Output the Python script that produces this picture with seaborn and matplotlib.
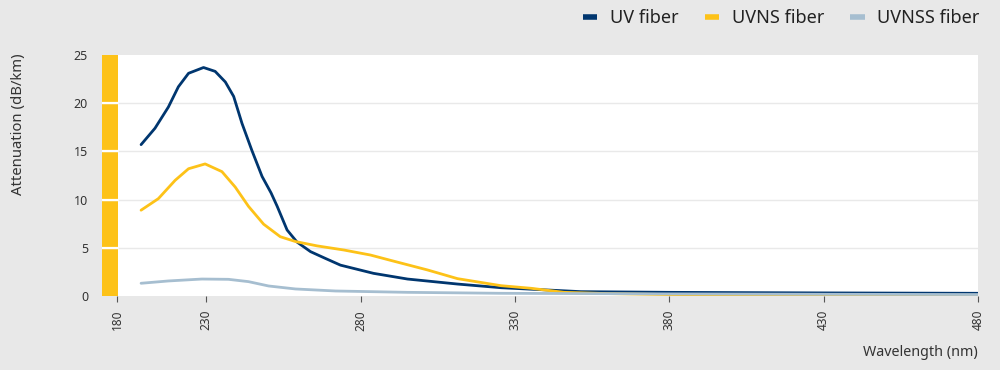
import numpy as np
import pandas as pd
import matplotlib
matplotlib.use("Agg")
import matplotlib.pyplot as plt
from matplotlib.lines import Line2D
import seaborn as sns

# ---- data ----
uv_x = [193.5, 201.3, 208.8, 214.4, 220.1, 228.5, 232.9, 236.2, 238.9, 241.6, 244.8,
        248.1, 251.0, 253.0, 256.2, 259.4, 263.8, 268.6, 273.5, 284.2, 295.2,
        311.4, 325.5, 351.4, 380, 403.4, 430, 480]
uv_y = [15.7, 17.4, 19.6, 21.7, 23.1, 23.7, 23.3, 22.2, 20.7, 17.9, 15.1,
        12.4, 10.7, 9.3, 6.85, 5.6, 4.6, 3.9, 3.2, 2.35, 1.76,
        1.24, 0.86, 0.45, 0.38, 0.35, 0.32, 0.28]

uvns_x = [193.5, 203.2, 212.6, 220.1, 229.4, 235.1, 239.4, 243.7, 248.6, 254.0, 258.9,
          265.9, 274.6, 283.2, 289.7, 301.7, 311.4, 325.5, 335.2, 345.9, 360, 380, 430, 480]
uvns_y = [8.9, 10.1, 12.0, 13.2, 13.7, 12.9, 11.3, 9.3, 7.45, 6.15, 5.65,
          5.2, 4.77, 4.25, 3.7, 2.7, 1.8, 1.07, 0.8, 0.38, 0.25, 0.15, 0.1, 0.08]

uvnss_x = [193.5, 208.8, 227.6, 237.2, 243.7, 250.2, 258.9, 271.9, 295.2, 325.5, 380, 430, 480]
uvnss_y = [1.32, 1.56, 1.76, 1.73, 1.49, 1.04, 0.73, 0.52, 0.38, 0.28, 0.22, 0.18, 0.15]

series_names = ["UV fiber", "UVNS fiber", "UVNSS fiber"]
colors = ["#00366f", "#fdc218", "#a6bed0"]
x_ticks = [180, 230, 280, 330, 380, 430, 480]
y_ticks = [0, 5, 10, 15, 20, 25]

df = pd.concat([
    pd.DataFrame({"Wavelength": uv_x, "Attenuation": uv_y, "Fiber": series_names[0]}),
    pd.DataFrame({"Wavelength": uvns_x, "Attenuation": uvns_y, "Fiber": series_names[1]}),
    pd.DataFrame({"Wavelength": uvnss_x, "Attenuation": uvnss_y, "Fiber": series_names[2]}),
])

# ---- style ----
sns.set_theme(style="white")
plt.rcParams["font.family"] = ["Noto Sans", "DejaVu Sans"]
BG = "#e8e8e8"

fig = plt.figure(figsize=(10, 3.7), dpi=100, facecolor=BG)
ax = fig.add_axes([0.102, 0.2, 0.876, 0.6514])
ax.set_facecolor("white")

# piecewise x scale: 180-230 compressed
K = 89.0 / 154.0
def fwd(x):
    x = np.asarray(x, dtype=float)
    return np.where(x < 230, 230 - (230 - x) * K, x)
def inv(p):
    p = np.asarray(p, dtype=float)
    return np.where(p < 230, 230 - (230 - p) / K, p)
ax.set_xscale("function", functions=(fwd, inv))

xmin = 171.6
ax.axvspan(xmin, 180.5, color="#fdc218", lw=0, zorder=0)
for yv in y_ticks[1:-1]:
    ax.axhline(yv, color="#e9e9e9", lw=1.0, zorder=1)
    ax.plot([xmin, 180.5], [yv, yv], color="white", lw=1.6, zorder=1.5,
            solid_capstyle="butt")

sns.lineplot(data=df, x="Wavelength", y="Attenuation", hue="Fiber",
             palette=dict(zip(series_names, colors)), linewidth=2.0,
             ax=ax, legend=False, zorder=3, sort=False)
for ln in ax.get_lines():
    ln.set_solid_joinstyle("round")
    ln.set_solid_capstyle("round")

ax.set_xlim(xmin, 480)
ax.set_ylim(0, 25)
ax.set_xticks(x_ticks)
ax.set_xticklabels([str(t) for t in x_ticks], rotation=90)
ax.set_yticks(y_ticks)
ax.tick_params(axis="x", length=4, width=0.8, color="#555555", labelsize=8.5,
               labelcolor="#333333", direction="out", pad=6, bottom=True)
ax.tick_params(axis="y", length=0, labelsize=9, labelcolor="#333333", pad=10)
for s in ax.spines.values():
    s.set_visible(False)
ax.grid(False)

ax.set_xlabel("")
ax.set_ylabel("")
fig.text(0.019, 0.664, "Attenuation (dB/km)", rotation=90, ha="center", va="center",
         fontsize=10.7, color="#333333")
fig.text(0.978, 0.048, "Wavelength (nm)", ha="right", va="center",
         fontsize=10.3, color="#333333")

handles = [Line2D([0], [0], color=c, lw=4, solid_capstyle="butt") for c in colors]
fig.legend(handles, series_names, loc="upper right", bbox_to_anchor=(0.996, 1.02),
           ncol=3, frameon=False, fontsize=13, handlelength=0.8, handletextpad=0.7,
           columnspacing=1.45, labelcolor="#222222")

fig.savefig("out.png", dpi=100, facecolor=BG)
